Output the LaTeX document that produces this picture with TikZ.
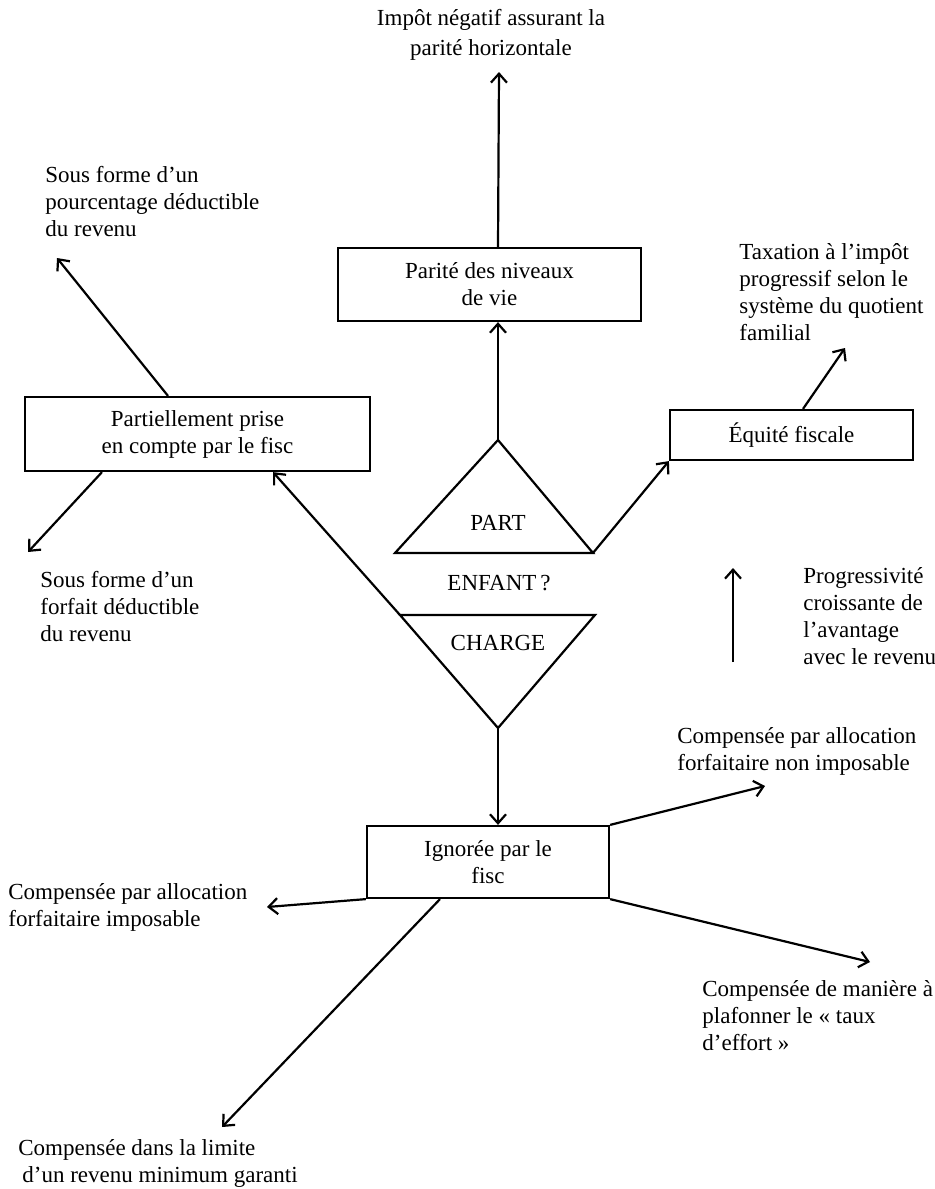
\documentclass[tikz,border=0pt]{standalone}
\usepackage{fontspec}
\setmainfont{Liberation Serif}
\usepackage{tikz}
\usetikzlibrary{arrows.meta}
\tikzset{
  block/.style={
    rectangle, draw, line width=1.1pt,
    minimum width=#1, align=center,
    inner sep=2pt},
  block/.default=120pt,
  note/.style={anchor=west, align=left, inner sep=0pt},
  edge/.style={line width=1.1pt, line join=miter},
  myarrow/.style={-{Straight Barb[length=4.5pt,width=8pt]}, line width=1.1pt},
}
\begin{document}
\begin{tikzpicture}[x=0.5pt, y=-0.5pt, font=\fontsize{11.5}{13.5}\selectfont]
  \useasboundingbox (0,0) rectangle (935,1189);
  % boxes
  \node[block=151.5pt, minimum height=36.5pt] (parite) at (489.5,284.5) {Parité des niveaux\\de vie};
  \node[block=172.5pt, minimum height=37pt] (partiel) at (197.5,434) {Partiellement prise\\en compte par le fisc};
  \node[block=121.5pt, minimum height=25pt] (equite) at (791.5,435) {Équité fiscale};
  \node[block=121pt, minimum height=36pt] (ignoree) at (488,862) {Ignorée par le\\fisc};
  % the two triangles
  \coordinate (partTop) at (498,440);
  \coordinate (partL) at (395,553);
  \coordinate (partR) at (593,553);
  \coordinate (chgL) at (400,615);
  \coordinate (chgR) at (595,615);
  \coordinate (chgBot) at (498,728);
  \draw[edge] (partTop) -- (partR) -- (partL) -- cycle;
  \draw[edge] (chgL) -- (chgR) -- (chgBot) -- cycle;
  \node (part) at (498,523) {PART};
  \node (enfant) at (499,583) {ENFANT\,?};
  \node (charge) at (498,643) {CHARGE};
  % texts
  \node[align=center, inner sep=0pt, font=\fontsize{11.5}{15}\selectfont] (impot) at (491,35) {Impôt négatif assurant la\\parité horizontale};
  \node[note] (pourcent) at (45,202) {Sous forme d’un\\pourcentage déductible\\du revenu};
  \node[note] (forfait) at (40,607) {Sous forme d’un\\forfait déductible\\du revenu};
  \node[note] (taxation) at (739,292) {Taxation à l’impôt\\progressif selon le\\système du quotient\\familial};
  \node[note] (progress) at (803,616) {Progressivité\\croissante de\\l’avantage\\avec le revenu};
  \node[note] (nonimpos) at (677,751) {Compensée par allocation\\forfaitaire non imposable};
  \node[note] (impos) at (8,907) {Compensée par allocation\\forfaitaire imposable};
  \node[note] (plafond) at (702,1016) {Compensée de manière à\\plafonner le « taux\\d’effort »};
  \node[note] (minimum) at (18,1163) {Compensée dans la limite\\\hspace{2pt}d’un revenu minimum garanti};
  % arrow ends
  \coordinate (impotTip) at (499,72);
  \coordinate (pourcentTip) at (57,258);
  \coordinate (forfaitTip) at (28,552);
  \coordinate (taxTip) at (845,348);
  \coordinate (progLo) at (733,662);
  \coordinate (progHi) at (733,568);
  \coordinate (nonimposTip) at (765,786);
  \coordinate (imposTip) at (267,907);
  \coordinate (plafondTip) at (870,962);
  \coordinate (minimumTip) at (222,1127);
  % connectors
  \draw[myarrow] (partTop) -- (partTop |- parite.south);
  \draw[myarrow] (parite.north -| partTop) -- (impotTip);
  \draw[myarrow] (partR) -- (equite.south west);
  \draw[myarrow] ([xshift=5.75pt]equite.north) -- (taxTip);
  \draw[myarrow] ([xshift=-14.75pt]partiel.north) -- (pourcentTip);
  \draw[myarrow] ([xshift=-47.75pt]partiel.south) -- (forfaitTip);
  \draw[myarrow] (chgL) -- ([xshift=37.75pt]partiel.south);
  \draw[myarrow] (chgBot) -- (chgBot |- ignoree.north);
  \draw[myarrow] (ignoree.north east) -- (nonimposTip);
  \draw[myarrow] (ignoree.south east) -- (plafondTip);
  \draw[myarrow] (ignoree.south west) -- (imposTip);
  \draw[myarrow] ([xshift=-24pt]ignoree.south) -- (minimumTip);
  \draw[myarrow] (progLo) -- (progHi);
\end{tikzpicture}
\end{document}
